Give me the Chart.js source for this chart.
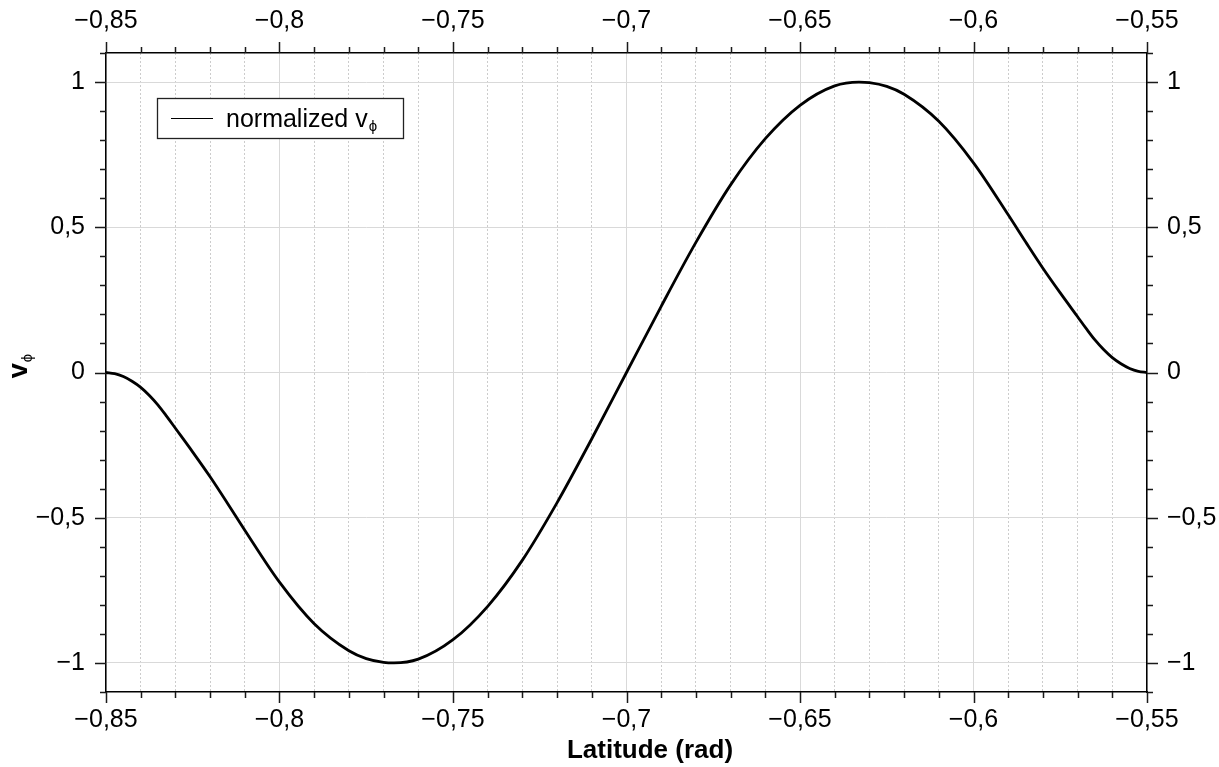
<!DOCTYPE html>
<html><head><meta charset="utf-8">
<script src="https://cdn.jsdelivr.net/npm/chart.js@4.4.1/dist/chart.umd.min.js"></script>
<style>html,body{margin:0;padding:0;background:#fff;overflow:hidden}</style>
</head><body>
<canvas id="c" width="1219" height="767" style="display:block;width:1219px;height:767px"></canvas>
<script>
// ---- data ----
const latitude = [-0.85,-0.8475,-0.845,-0.8425,-0.84,-0.8375,-0.835,-0.8325,-0.83,-0.825,-0.82,-0.815,-0.81,-0.80,-0.79,-0.78,-0.775,-0.77,-0.767,-0.76,-0.75,-0.74,-0.73,-0.72,-0.71,-0.70,-0.69,-0.68,-0.67,-0.66,-0.65,-0.64,-0.633,-0.63,-0.625,-0.62,-0.61,-0.60,-0.59,-0.585,-0.58,-0.575,-0.57,-0.5675,-0.565,-0.5625,-0.56,-0.5575,-0.555,-0.5525,-0.55];
const vPhi = [0,-0.004,-0.014,-0.030,-0.051,-0.079,-0.112,-0.151,-0.192,-0.274,-0.359,-0.450,-0.543,-0.722,-0.865,-0.958,-0.985,-0.998,-1.0,-0.987,-0.92,-0.805,-0.646,-0.448,-0.228,0,0.228,0.448,0.646,0.805,0.92,0.987,1.0,0.998,0.985,0.958,0.865,0.722,0.543,0.450,0.359,0.274,0.192,0.151,0.112,0.079,0.051,0.030,0.014,0.004,0];
const seriesLabel = 'normalized v';
const seriesSub = '\u03D5';
const xTitle = 'Latitude (rad)';
const yTitleMain = 'v';
const yTitleSub = '\u03D5';
const xRange = [-0.85, -0.55];
const yRange = [-1.1, 1.1];
const xMinorStep = 0.01;
const yMinorStep = 0.1;

const FONT = '"Liberation Sans", Arial, Helvetica, sans-serif';
const isMajorX = v => Math.abs(Math.round(v*100)) % 5 === 0;
const isMajorY = v => Math.abs(Math.round(v*10)) % 5 === 0;
function fmt(v, dec){
  const r = Math.round(Math.abs(v)*Math.pow(10,dec))/Math.pow(10,dec);
  if (r === 0) return '0';
  return (v < 0 ? '\u2212' : '') + String(r).replace('.', ',');
}

const decorations = {
  id: 'decorations',
  afterDraw(chart){
    const ctx = chart.ctx, ca = chart.chartArea;
    ctx.save();
    ctx.strokeStyle = '#1a1a1a';
    ctx.lineWidth = 1.5;
    ctx.beginPath();
    ['x','x2'].forEach(id => {
      const s = chart.scales[id];
      s.ticks.forEach(t => {
        const px = Math.round(s.getPixelForValue(t.value)) + 0.5;
        const len = isMajorX(t.value) ? 11 : 6;
        if (id === 'x'){ ctx.moveTo(px, ca.bottom); ctx.lineTo(px, ca.bottom + len); }
        else { ctx.moveTo(px, ca.top); ctx.lineTo(px, ca.top - len); }
      });
    });
    ['y','y2'].forEach(id => {
      const s = chart.scales[id];
      s.ticks.forEach(t => {
        const py = Math.round(s.getPixelForValue(t.value)) + 0.5;
        const len = isMajorY(t.value) ? 11 : 6;
        if (id === 'y'){ ctx.moveTo(ca.left, py); ctx.lineTo(ca.left - len, py); }
        else { ctx.moveTo(ca.right, py); ctx.lineTo(ca.right + len, py); }
      });
    });
    ctx.stroke();

    // legend box
    const bx = 157.5, by = 98.5, bw = 246, bh = 40;
    ctx.fillStyle = '#fff';
    ctx.fillRect(bx, by, bw, bh);
    ctx.lineWidth = 1.3;
    ctx.strokeStyle = '#222';
    ctx.strokeRect(bx, by, bw, bh);
    ctx.beginPath();
    ctx.lineWidth = 1.2;
    ctx.strokeStyle = '#000';
    ctx.moveTo(171, 118.5); ctx.lineTo(213, 118.5);
    ctx.stroke();
    ctx.fillStyle = '#000';
    ctx.textBaseline = 'alphabetic';
    ctx.textAlign = 'left';
    ctx.font = '25px ' + FONT;
    ctx.fillText(seriesLabel, 226, 127);
    const w = ctx.measureText(seriesLabel).width;
    ctx.font = '15px ' + FONT;
    ctx.fillText(seriesSub, 226 + w + 1, 131);

    // x title
    ctx.font = 'bold 26px ' + FONT;
    ctx.textAlign = 'center';
    ctx.fillText(xTitle, 650, 758);

    // y title (rotated)
    ctx.save();
    ctx.translate(27, 366);
    ctx.rotate(-Math.PI/2);
    ctx.textAlign = 'left';
    ctx.font = 'bold 27px ' + FONT;
    const wv = ctx.measureText(yTitleMain).width;
    ctx.font = '15px ' + FONT;
    const wp = ctx.measureText(yTitleSub).width;
    const x0 = -(wv + wp + 1)/2;
    ctx.font = 'bold 27px ' + FONT;
    ctx.fillText(yTitleMain, x0, 0);
    ctx.font = '15px ' + FONT;
    ctx.fillText(yTitleSub, x0 + wv + 1, 5);
    ctx.restore();
    ctx.restore();
  }
};

const tickFont = {family: FONT, size: 25};
const xTicks = {stepSize: xMinorStep, autoSkip: false, maxRotation: 0, minRotation: 0, color: '#000', font: tickFont,
                callback: v => isMajorX(v) ? fmt(v, 2) : ''};
const yTicks = {stepSize: yMinorStep, autoSkip: false, color: '#000', font: tickFont,
                callback: v => isMajorY(v) ? fmt(v, 1) : ''};

new Chart(document.getElementById('c'), {
  type: 'line',
  data: {
    datasets: [{
      label: seriesLabel + seriesSub,
      data: latitude.map((x, i) => ({x: x, y: vPhi[i]})),
      borderColor: '#000', borderWidth: 2.8, pointRadius: 0, fill: false,
      cubicInterpolationMode: 'monotone', xAxisID: 'x', yAxisID: 'y'
    }]
  },
  options: {
    responsive: false, animation: false, devicePixelRatio: 1,
    layout: {padding: 0},
    plugins: {legend: {display: false}, tooltip: {enabled: false}, title: {display: false}},
    scales: {
      x: {
        type: 'linear', position: 'bottom', min: xRange[0], max: xRange[1],
        ticks: Object.assign({}, xTicks, {padding: 13}),
        grid: {drawTicks: false, lineWidth: 1,
               color: c => (c.tick && isMajorX(c.tick.value)) ? '#d9d9d9' : '#cccccc'},
        border: {color: '#000', width: 1.5, dash: c => (c.tick && !isMajorX(c.tick.value)) ? [2,2] : []},
        afterFit: s => { s.height = 75; }
      },
      x2: {
        type: 'linear', position: 'top', min: xRange[0], max: xRange[1],
        ticks: Object.assign({}, xTicks, {padding: 17}),
        grid: {drawTicks: false, drawOnChartArea: false},
        border: {color: '#000', width: 1.5},
        afterFit: s => { s.height = 53; }
      },
      y: {
        type: 'linear', position: 'left', min: yRange[0], max: yRange[1],
        ticks: Object.assign({}, yTicks, {padding: 21}),
        grid: {drawTicks: false, lineWidth: 1,
               color: c => (c.tick && isMajorY(c.tick.value)) ? '#d9d9d9' : 'rgba(0,0,0,0)'},
        border: {color: '#000', width: 1.5},
        afterFit: s => { s.width = 106; }
      },
      y2: {
        type: 'linear', position: 'right', min: yRange[0], max: yRange[1],
        ticks: Object.assign({}, yTicks, {padding: 20}),
        grid: {drawTicks: false, drawOnChartArea: false},
        border: {color: '#000', width: 1.5},
        afterFit: s => { s.width = 72; }
      }
    }
  },
  plugins: [decorations]
});
</script>
</body></html>
